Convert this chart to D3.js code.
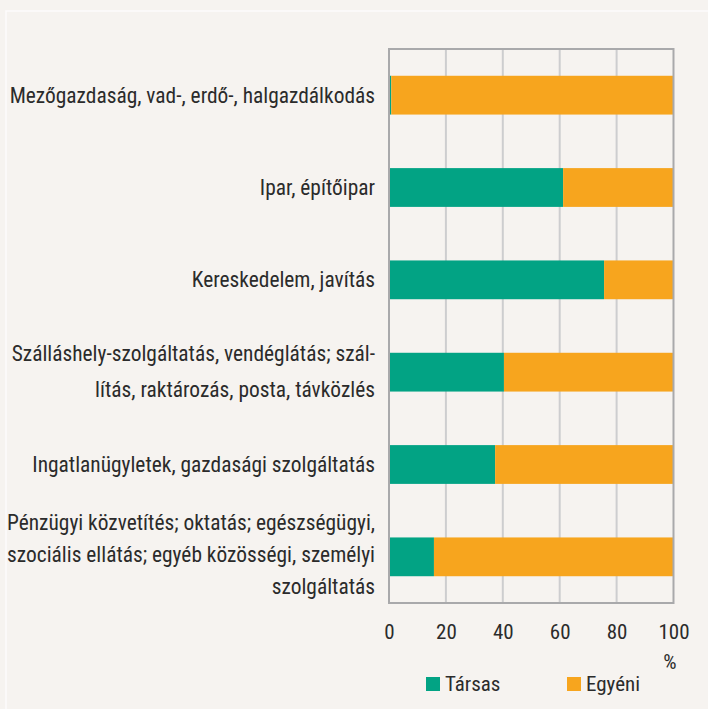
<!DOCTYPE html>
<html><head><meta charset="utf-8">
<script src="https://cdn.jsdelivr.net/npm/d3@7"></script>
<style>body{margin:0;background:#f6f3f0}svg{display:block}text{font-family:"Liberation Sans Narrow","Roboto Condensed","DejaVu Sans Condensed",sans-serif;fill:#2b2b2b}</style>
</head><body><svg id="c" width="708" height="709"></svg>
<script>
const categories = [
  ["Mezőgazdaság, vad-, erdő-, halgazdálkodás"],
  ["Ipar, építőipar"],
  ["Kereskedelem, javítás"],
  ["Szálláshely-szolgáltatás, vendéglátás; szál-", "lítás, raktározás, posta, távközlés"],
  ["Ingatlanügyletek, gazdasági szolgáltatás"],
  ["Pénzügyi közvetítés; oktatás; egészségügyi,", "szociális ellátás; egyéb közösségi, személyi", "szolgáltatás"]
];
const tarsas = [0.8, 61.2, 75.6, 40.4, 37.3, 15.8];
const egyeni = [99.2, 38.8, 24.4, 59.6, 62.7, 84.2];
const ticks = [0, 20, 40, 60, 80, 100];
const seriesNames = ["Társas", "Egyéni"];
const colors = ["#02a384", "#f7a51e"];

const svg = d3.select("#c");
svg.append("rect").attr("width",708).attr("height",709).attr("fill","#f6f3f0");
svg.append("rect").attr("x",6).attr("y",11).attr("width",720).attr("height",720)
  .attr("fill","none").attr("stroke","#fdfcfb").attr("stroke-width",1.5);

const keys = categories.map((d,i)=>i);
const x = d3.scaleLinear().domain([0,100]).range([389,673.5]);
const y = d3.scaleBand().domain(keys).range([49,603]).paddingInner(0.58).paddingOuter(0.29);

// grid
svg.append("g").selectAll("line").data(ticks.slice(1,-1)).join("line")
  .attr("x1",d=>x(d)).attr("x2",d=>x(d)).attr("y1",49).attr("y2",603)
  .attr("stroke","#cdcdcf").attr("stroke-width",2);

// bars
const stackData = keys.map(i=>({i, a:tarsas[i], b:egyeni[i]}));
const g = svg.append("g");
g.selectAll("rect.t").data(stackData).join("rect").attr("class","t")
  .attr("x",x(0)).attr("y",d=>y(d.i)).attr("height",y.bandwidth())
  .attr("width",d=>x(d.a)-x(0)).attr("fill",colors[0]);
g.selectAll("rect.e").data(stackData).join("rect").attr("class","e")
  .attr("x",d=>x(d.a)).attr("y",d=>y(d.i)).attr("height",y.bandwidth())
  .attr("width",d=>x(d.a+d.b)-x(d.a)).attr("fill",colors[1]);

// frame
svg.append("rect").attr("x",x(0)).attr("y",49).attr("width",x(100)-x(0)).attr("height",554)
  .attr("fill","none").attr("stroke","#a9a9ab").attr("stroke-width",2);

// x axis labels
const xa = svg.append("g").attr("transform","translate(0,603)")
  .call(d3.axisBottom(x).tickValues(ticks).tickSize(0).tickPadding(21).tickFormat(d3.format("d")));
xa.select(".domain").remove();
xa.selectAll("text").style("font-size","21px").attr("fill","#2b2b2b");
svg.append("text").attr("x",670).attr("y",669).attr("text-anchor","middle").style("font-size","21px").text("%");

// category labels
const lineGap = [0,0,0,36,0,32];
const lab = svg.append("g");
categories.forEach((lines,i)=>{
  const cy = y(i)+y.bandwidth()/2;
  const gap = lineGap[i];
  const t = lab.append("text").attr("text-anchor","end").style("font-size","21.4px");
  lines.forEach((ln,j)=>{
    t.append("tspan").attr("x",375)
     .attr("y", cy + (j-(lines.length-1)/2)*gap + (lines.length===3?-2:0) + (lines.length===2?-1:0))
     .attr("dy","0.35em").text(ln);
  });
});

// legend
const lg = svg.append("g");
const lx = [426,567];
seriesNames.forEach((n,i)=>{
  lg.append("rect").attr("x",lx[i]).attr("y",677).attr("width",14).attr("height",14).attr("fill",colors[i]);
  lg.append("text").attr("x",lx[i]+19).attr("y",684).attr("dy","0.35em").style("font-size","21px").text(n);
});
</script></body></html>
